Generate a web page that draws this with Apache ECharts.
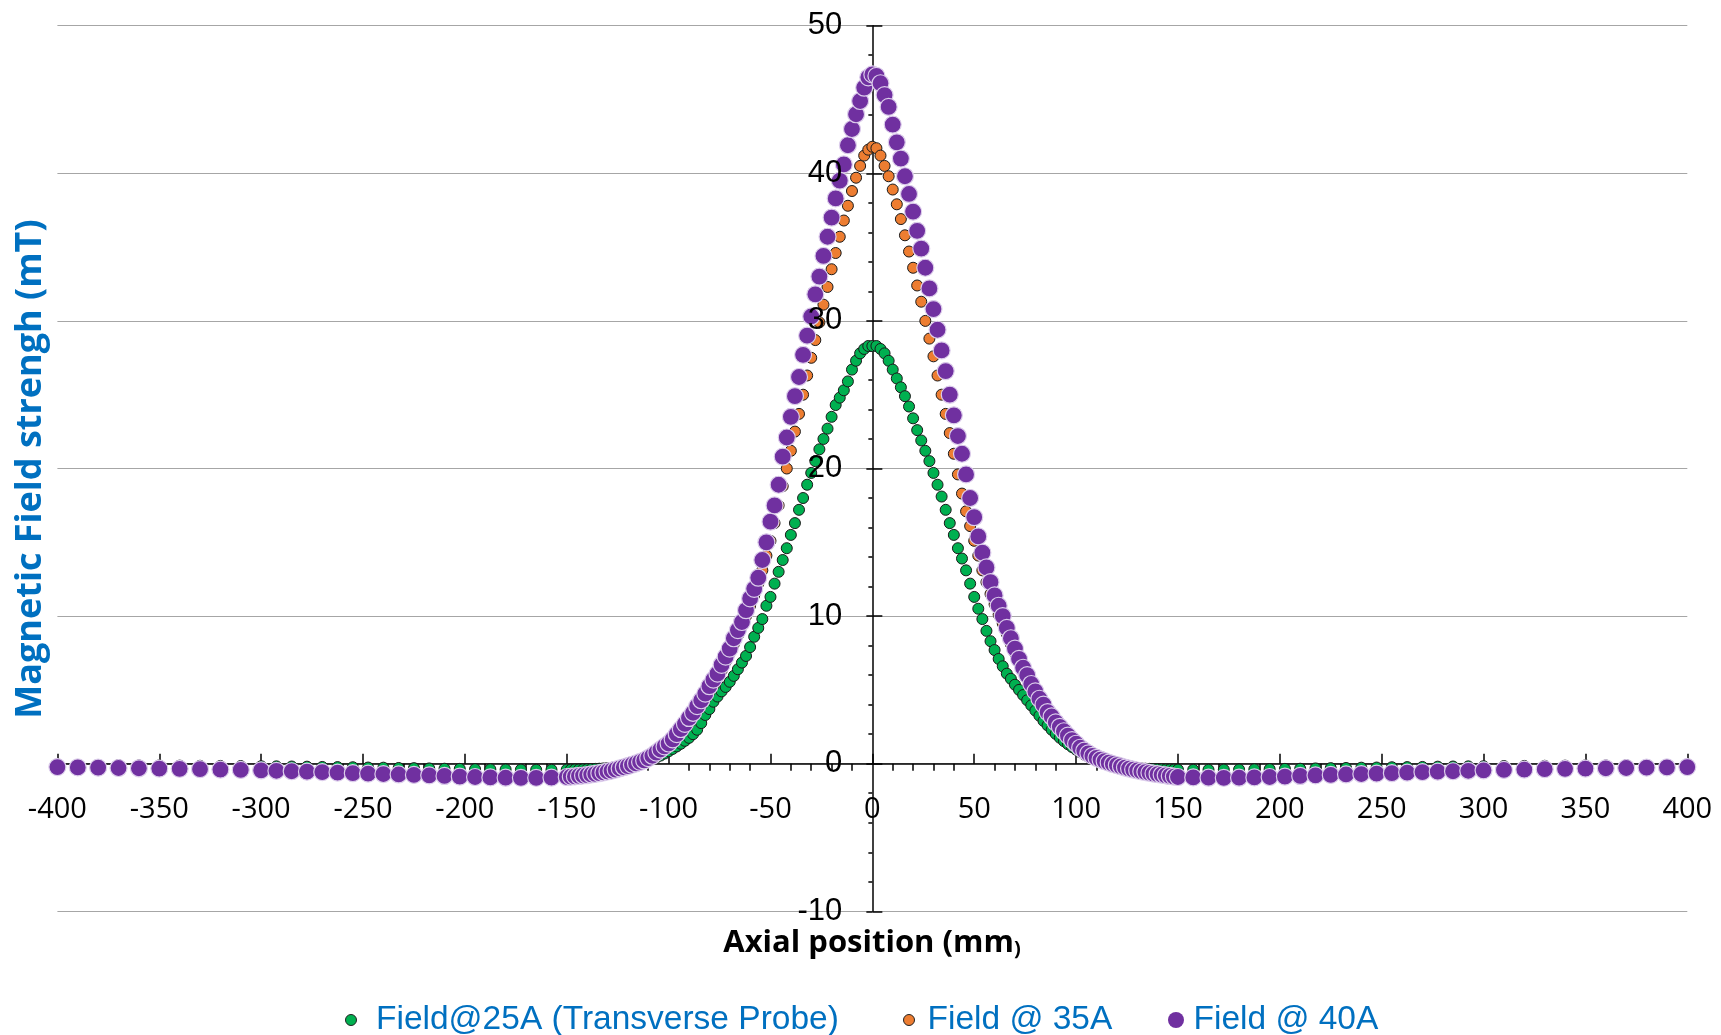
<!DOCTYPE html>
<html><head><meta charset="utf-8">
<script src="https://cdn.jsdelivr.net/npm/echarts@6/dist/echarts.min.js"></script>
<style>html,body{margin:0;padding:0;background:#fff}#c{width:1721px;height:1035px}</style>
</head><body><div id="c"></div>
<script>
// Axial positions (mm)
const xPos = [
 -400,-390,-380,-370,-360,-350,-340,-330,-320,-310,
 -300,-292.5,-285,-277.5,-270,-262.5,-255,-247.5,-240,-232.5,-225,-217.5,-210,-202.5,-195,-187.5,-180,-172.5,-165,-157.5,
 -150,-148,-146,-144,-142,-140,-138,-136,-134,-132,-130,-128,-126,-124,-122,-120,-118,-116,-114,-112,-110,-108,-106,-104,-102,
 -100,-98,-96,-94,-92,-90,-88,-86,-84,-82,-80,-78,-76,-74,-72,-70,-68,-66,-64,-62,-60,-58,-56,-54,-52,
 -50,-48,-46,-44,-42,-40,-38,-36,-34,-32,-30,-28,-26,-24,-22,-20,-18,-16,-14,-12,-10,-8,-6,-4,-2,
 0,
 2,4,6,8,10,12,14,16,18,20,22,24,26,28,30,32,34,36,38,40,42,44,46,48,50,
 52,54,56,58,60,62,64,66,68,70,72,74,76,78,80,82,84,86,88,90,92,94,96,98,100,
 102,104,106,108,110,112,114,116,118,120,122,124,126,128,130,132,134,136,138,140,142,144,146,148,150,
 157.5,165,172.5,180,187.5,195,202.5,210,217.5,225,232.5,240,247.5,255,262.5,270,277.5,285,292.5,300,
 310,320,330,340,350,360,370,380,390,400
];
// Field@25A (Transverse Probe), mT
const field25 = [
 -0.09,-0.1,-0.1,-0.11,-0.12,-0.12,-0.13,-0.14,-0.15,-0.16,
 -0.17,-0.18,-0.19,-0.2,-0.22,-0.23,-0.24,-0.26,-0.27,-0.29,-0.3,-0.32,-0.34,-0.35,-0.37,-0.38,-0.39,-0.4,-0.41,-0.41,
 -0.4,-0.4,-0.39,-0.39,-0.38,-0.37,-0.36,-0.35,-0.34,-0.32,-0.3,-0.28,-0.25,-0.22,-0.18,-0.14,-0.1,-0.04,0.03,0.11,0.2,0.3,0.42,0.55,0.69,
 0.84,1.0,1.17,1.35,1.55,1.75,2.0,2.3,2.75,3.3,3.7,4.2,4.55,4.9,5.2,5.55,5.95,6.4,6.85,7.3,7.9,8.6,9.2,9.8,10.7,
 11.3,12.2,13.0,13.8,14.6,15.5,16.3,17.2,18.0,18.9,19.7,20.5,21.3,22.0,22.7,23.5,24.3,24.8,25.3,25.9,26.7,27.3,27.8,28.1,28.3,
 28.3,
 28.3,28.1,27.8,27.3,26.7,26.1,25.5,24.9,24.2,23.4,22.6,21.9,21.2,20.5,19.7,18.9,18.1,17.2,16.3,15.5,14.6,13.9,13.1,12.2,11.3,
 10.5,9.8,9.0,8.3,7.7,7.1,6.6,6.1,5.75,5.35,5.0,4.65,4.3,3.95,3.6,3.25,2.9,2.6,2.3,2.02,1.76,1.53,1.32,1.13,0.95,
 0.78,0.62,0.47,0.34,0.22,0.12,0.04,-0.03,-0.09,-0.14,-0.18,-0.22,-0.25,-0.28,-0.3,-0.32,-0.34,-0.35,-0.36,-0.37,-0.38,-0.39,-0.39,-0.4,-0.4,
 -0.41,-0.41,-0.4,-0.39,-0.38,-0.37,-0.35,-0.34,-0.32,-0.3,-0.29,-0.27,-0.26,-0.24,-0.23,-0.22,-0.2,-0.19,-0.18,-0.17,
 -0.16,-0.15,-0.14,-0.13,-0.12,-0.12,-0.11,-0.1,-0.1,-0.09
];
// Field @ 35A, mT
const field35 = [
 -0.2,-0.22,-0.24,-0.25,-0.27,-0.29,-0.31,-0.33,-0.35,-0.37,
 -0.39,-0.41,-0.44,-0.47,-0.5,-0.53,-0.56,-0.59,-0.62,-0.65,-0.68,-0.71,-0.74,-0.77,-0.8,-0.83,-0.85,-0.86,-0.86,-0.85,
 -0.84,-0.82,-0.8,-0.78,-0.75,-0.72,-0.68,-0.64,-0.6,-0.55,-0.5,-0.44,-0.38,-0.31,-0.24,-0.17,-0.09,-0.01,0.08,0.18,0.3,0.45,0.63,0.83,1.04,
 1.27,1.52,1.83,2.15,2.48,2.8,3.15,3.55,3.95,4.4,4.85,5.3,5.8,6.3,6.9,7.5,8.1,8.7,9.3,10.0,10.7,11.4,12.2,13.1,14.1,
 15.1,16.3,17.5,18.8,20.0,21.2,22.5,23.7,25.0,26.3,27.5,28.7,29.9,31.1,32.3,33.5,34.6,35.7,36.8,37.8,38.8,39.7,40.5,41.2,41.6,
 41.8,
 41.7,41.2,40.5,39.8,38.9,37.9,36.9,35.8,34.7,33.6,32.4,31.3,30.0,28.8,27.6,26.3,25.0,23.7,22.4,21.0,19.6,18.3,17.1,16.1,15.1,
 14.1,13.1,12.3,11.5,10.8,10.1,9.5,8.8,8.1,7.5,6.9,6.3,5.8,5.3,4.8,4.3,3.9,3.5,3.1,2.75,2.45,2.15,1.85,1.55,1.3,
 1.06,0.86,0.67,0.5,0.36,0.24,0.13,0.04,-0.04,-0.11,-0.18,-0.25,-0.31,-0.37,-0.42,-0.47,-0.52,-0.56,-0.6,-0.64,-0.68,-0.71,-0.74,-0.77,-0.8,
 -0.83,-0.85,-0.86,-0.85,-0.83,-0.8,-0.77,-0.74,-0.71,-0.68,-0.65,-0.62,-0.59,-0.56,-0.53,-0.5,-0.47,-0.44,-0.41,-0.39,
 -0.37,-0.35,-0.33,-0.31,-0.29,-0.27,-0.25,-0.24,-0.22,-0.2
];
// Field @ 40A, mT
const field40 = [
 -0.23,-0.25,-0.27,-0.29,-0.31,-0.33,-0.35,-0.37,-0.4,-0.42,
 -0.45,-0.48,-0.51,-0.54,-0.57,-0.6,-0.64,-0.67,-0.7,-0.73,-0.76,-0.79,-0.83,-0.87,-0.9,-0.93,-0.95,-0.96,-0.96,-0.94,
 -0.9,-0.88,-0.86,-0.83,-0.8,-0.77,-0.73,-0.69,-0.64,-0.59,-0.53,-0.47,-0.4,-0.32,-0.24,-0.16,-0.07,0.02,0.12,0.22,0.38,0.54,0.75,0.96,1.17,
 1.37,1.65,2.0,2.35,2.7,3.1,3.45,3.9,4.3,4.75,5.25,5.7,6.1,6.7,7.25,7.8,8.5,9.05,9.6,10.4,11.2,11.85,12.6,13.8,15.0,
 16.4,17.5,18.9,20.8,22.1,23.5,24.9,26.2,27.7,29.0,30.3,31.8,33.0,34.4,35.7,37.0,38.3,39.5,40.6,41.9,43.0,44.0,44.9,45.8,46.5,
 46.7,
 46.6,46.1,45.3,44.5,43.3,42.1,41.0,39.8,38.6,37.4,36.1,34.9,33.6,32.2,30.8,29.4,28.0,26.6,25.0,23.6,22.2,21.0,19.6,18.0,16.7,
 15.4,14.3,13.3,12.3,11.4,10.7,10.0,9.2,8.5,7.8,7.1,6.5,6.0,5.4,4.9,4.4,4.0,3.5,3.2,2.8,2.5,2.2,1.9,1.6,1.35,
 1.08,0.88,0.7,0.53,0.4,0.28,0.17,0.07,-0.02,-0.1,-0.18,-0.26,-0.33,-0.4,-0.46,-0.52,-0.57,-0.62,-0.67,-0.71,-0.75,-0.79,-0.83,-0.87,-0.9,
 -0.93,-0.95,-0.96,-0.95,-0.93,-0.9,-0.87,-0.83,-0.79,-0.76,-0.73,-0.7,-0.67,-0.64,-0.6,-0.57,-0.54,-0.51,-0.48,-0.45,
 -0.42,-0.4,-0.37,-0.35,-0.33,-0.31,-0.29,-0.27,-0.25,-0.23
];
const seriesNames = ['Field@25A (Transverse Probe)', 'Field @ 35A', 'Field @ 40A'];
const yTitle = 'Magnetic Field strengh (mT)';
const xTitleMain = 'Axial position (mm';
const xTitleEnd = ')';

function pairs(vals) { return xPos.map((x, i) => [x, vals[i]]); }

const chart = echarts.init(document.getElementById('c'), null, { renderer: 'canvas' });
const black = '#000';
const tickLine = { color: black, width: 1.5 };
const legendText = { color: '#0070C0', fontSize: 33.5, fontFamily: 'Liberation Sans' };
const yRange = { type: 'value', min: -10, max: 50, interval: 10, position: 'left', offset: 0 };

chart.setOption({
  animation: false,
  backgroundColor: '#fff',
  grid: { left: 57.4, right: 33.7, top: 25.7, bottom: 123.7, containLabel: false, outerBoundsMode: 'none' },
  xAxis: {
    type: 'value', min: -400, max: 400, interval: 50, position: 'bottom', offset: 0,
    axisLine: { onZero: false, lineStyle: { color: black, width: 1.5 } },
    axisTick: { inside: true, length: 10, lineStyle: tickLine },
    minorTick: { show: true, splitNumber: 5, length: -7, lineStyle: tickLine },
    axisLabel: { margin: 32, fontSize: 29, fontFamily: 'Open Sans', color: black },
    splitLine: { show: false }
  },
  yAxis: [
    // main axis: gridlines, axis line, inner major ticks, outer minor ticks
    Object.assign({}, yRange, {
      z: 0,
      axisLine: { onZero: false, lineStyle: { color: black, width: 1.5 } },
      axisTick: { inside: true, length: 10, lineStyle: tickLine },
      minorTick: { show: true, splitNumber: 5, length: -4, lineStyle: tickLine },
      axisLabel: { show: false },
      splitLine: { show: true, lineStyle: { color: '#a6a6a6', width: 1.2 } }
    }),
    // overlay axis: labels drawn above the markers, outer half of the crossing major ticks
    Object.assign({}, yRange, {
      z: 10,
      axisLine: { show: false, onZero: false },
      axisTick: { show: true, inside: false, length: 6, lineStyle: tickLine },
      minorTick: { show: false },
      axisLabel: { margin: 30, fontSize: 31, fontFamily: 'Liberation Sans', color: black },
      splitLine: { show: false }
    })
  ],
  legend: [
    { data: [seriesNames[0]], left: 340, top: 998, icon: 'circle', itemWidth: 40, itemHeight: 11,
      itemStyle: { borderColor: '#222', borderWidth: 1 }, textStyle: legendText, selectedMode: false },
    { data: [seriesNames[1]], left: 898, top: 998, icon: 'circle', itemWidth: 27, itemHeight: 11,
      itemStyle: { borderColor: '#222', borderWidth: 1 }, textStyle: legendText, selectedMode: false },
    { data: [seriesNames[2]], left: 1163, top: 998, icon: 'circle', itemWidth: 25, itemHeight: 16,
      itemStyle: { borderWidth: 0 }, textStyle: legendText, selectedMode: false }
  ],
  graphic: [
    { type: 'text', x: 31, y: 469, rotation: Math.PI / 2,
      style: { text: yTitle, fontSize: 36, fontWeight: 'bold', fontFamily: 'Open Sans', fill: '#0070C0',
               align: 'center', verticalAlign: 'middle' } },
    { type: 'text', x: 872, y: 941,
      style: { text: '{a|' + xTitleMain + '}{b|' + xTitleEnd + '}', align: 'center', verticalAlign: 'middle',
               rich: {
                 a: { fontSize: 31, fontWeight: 'bold', fontFamily: 'Open Sans', fill: black, verticalAlign: 'bottom', lineHeight: 36 },
                 b: { fontSize: 20, fontWeight: 'bold', fontFamily: 'Open Sans', fill: black, verticalAlign: 'bottom', lineHeight: 28 }
               } } }
  ],
  series: [
    { name: seriesNames[0], type: 'scatter', data: pairs(field25), symbol: 'circle', symbolSize: 11, yAxisIndex: 0,
      itemStyle: { color: '#00B050', borderColor: '#1a1a1a', borderWidth: 1, opacity: 1 }, emphasis: { disabled: true } },
    { name: seriesNames[1], type: 'scatter', data: pairs(field35), symbol: 'circle', symbolSize: 11, yAxisIndex: 0,
      itemStyle: { color: '#ED7D31', borderColor: '#1a1a1a', borderWidth: 1, opacity: 1 }, emphasis: { disabled: true } },
    { name: seriesNames[2], type: 'scatter', data: pairs(field40), symbol: 'circle', symbolSize: 17, yAxisIndex: 0,
      itemStyle: { color: '#7030A0', borderColor: '#DCCDEB', borderWidth: 1.2, opacity: 1 }, emphasis: { disabled: true } }
  ]
});

// Place both axes so they cross at the data origin (0, 0), as in the reference.
const origin = chart.convertToPixel({ xAxisIndex: 0, yAxisIndex: 0 }, [0, 0]);
const lowLeft = chart.convertToPixel({ xAxisIndex: 0, yAxisIndex: 0 }, [-400, -10]);
const yOff = -(origin[0] - lowLeft[0]);
chart.setOption({
  xAxis: { offset: -(lowLeft[1] - origin[1]) },
  yAxis: [{ offset: yOff }, { offset: yOff }]
});
</script>
</body></html>
